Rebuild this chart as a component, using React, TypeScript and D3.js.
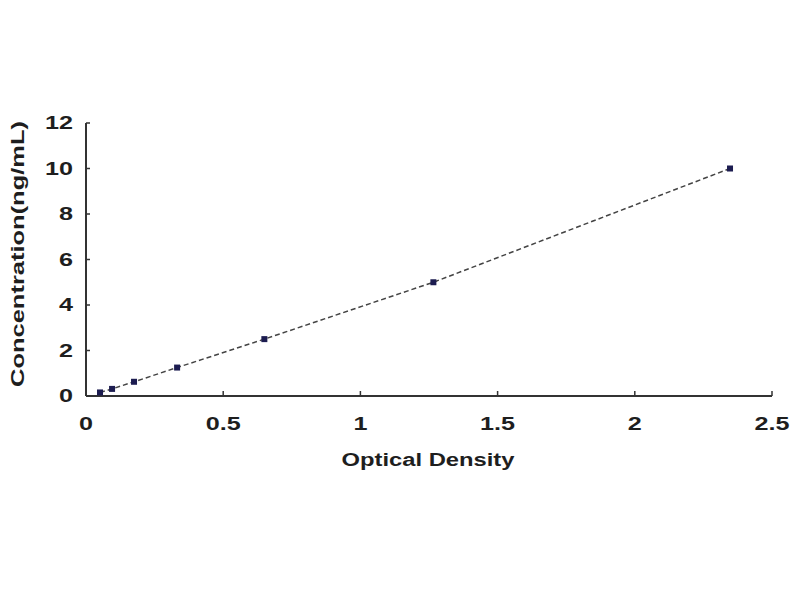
import React from 'react';
import * as d3 from 'd3';

// standard curve points
const opticalDensity = [0.051, 0.095, 0.175, 0.332, 0.65, 1.266, 2.347];
const concentration = [0.156, 0.312, 0.625, 1.25, 2.5, 5, 10];

const xTicks = [0, 0.5, 1, 1.5, 2, 2.5];
const xTickLabels = ['0', '0.5', '1', '1.5', '2', '2.5'];
const yTicks = [0, 2, 4, 6, 8, 10, 12];

const xTitle = 'Optical Density';
const yTitle = 'Concentration(ng/mL)';

const App: React.FC = () => {
  const width = 800;
  const height = 600;
  const margin = { left: 86, right: 28, top: 123, bottom: 204 };

  const x = d3.scaleLinear().domain([0, 2.5]).range([margin.left, width - margin.right]);
  const y = d3.scaleLinear().domain([0, 12]).range([height - margin.bottom, margin.top]);

  const points = opticalDensity.map((od, i) => ({ od, c: concentration[i] }));

  const line = d3
    .line<{ od: number; c: number }>()
    .x((d) => x(d.od))
    .y((d) => y(d.c));

  const font = '"Liberation Sans", Arial, sans-serif';
  const textColor = '#1e1e1e';
  // the original picture is stretched sideways, so the text is too
  const stretch = 1.4;

  return (
    <svg
      width={width}
      height={height}
      style={{ position: 'absolute', left: 0, top: 0, background: '#fff' }}
    >
      {/* dashed curve */}
      <path
        d={line(points) ?? ''}
        fill="none"
        stroke="#444"
        strokeWidth={1.5}
        strokeDasharray="5,3"
      />

      {/* axes */}
      <line x1={x(0)} x2={x(0)} y1={y(0)} y2={y(12)} stroke="#333" strokeWidth={2} />
      <line x1={x(0)} x2={x(2.5)} y1={y(0)} y2={y(0)} stroke="#333" strokeWidth={2} />

      {yTicks.map((t) => (
        <g key={`y${t}`}>
          <line x1={x(0)} x2={x(0) + 4} y1={y(t)} y2={y(t)} stroke="#333" strokeWidth={1.5} />
          <g transform={`translate(${x(0) - 13},${y(t)}) scale(${stretch},1)`}>
            <text
              dy="0.36em"
              textAnchor="end"
              fontFamily={font}
              fontWeight="bold"
              fontSize={18}
              fill={textColor}
            >
              {t}
            </text>
          </g>
        </g>
      ))}

      {xTicks.map((t, i) => (
        <g key={`x${t}`}>
          <line x1={x(t)} x2={x(t)} y1={y(0)} y2={y(0) - 5} stroke="#333" strokeWidth={1.5} />
          <g transform={`translate(${x(t)},${y(0) + 34}) scale(${stretch},1)`}>
            <text
              textAnchor="middle"
              fontFamily={font}
              fontWeight="bold"
              fontSize={18}
              fill={textColor}
            >
              {xTickLabels[i]}
            </text>
          </g>
        </g>
      ))}

      {/* markers */}
      {points.map((d, i) => (
        <rect
          key={i}
          x={x(d.od) - 3}
          y={y(d.c) - 3}
          width={6}
          height={6}
          fill="#1c1c50"
        />
      ))}

      <text
        x={428}
        y={466}
        textAnchor="middle"
        fontFamily={font}
        fontWeight="bold"
        fontSize={18}
        fill={textColor}
        textLength={173}
        lengthAdjust="spacingAndGlyphs"
      >
        {xTitle}
      </text>
      <text
        transform={`translate(24,254) rotate(-90)`}
        textAnchor="middle"
        fontFamily={font}
        fontWeight="bold"
        fontSize={18}
        fill={textColor}
        textLength={266}
        lengthAdjust="spacingAndGlyphs"
      >
        {yTitle}
      </text>
    </svg>
  );
};

export default App;
